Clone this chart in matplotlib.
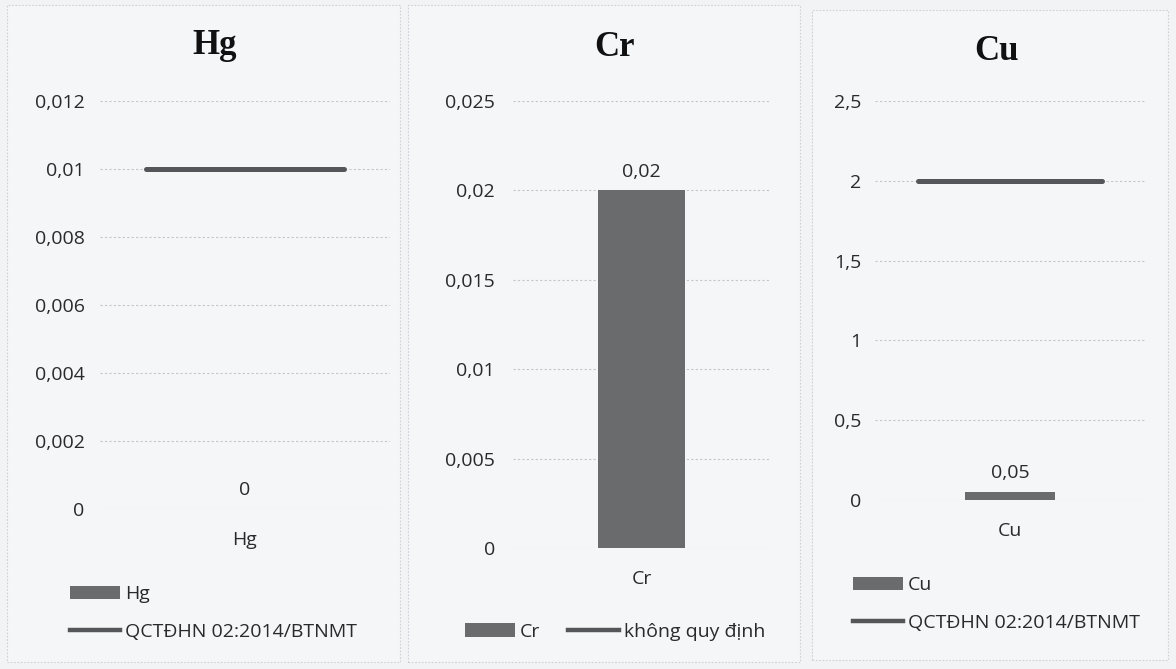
import numpy as np
import matplotlib.pyplot as plt
from matplotlib.patches import Rectangle, Patch
from matplotlib.lines import Line2D
from matplotlib.ticker import FixedLocator, FuncFormatter

metals = ['Hg', 'Cr', 'Cu']
measured = [0, 0.02, 0.05]
limits = [0.01, None, 2]
limit_names = ['QCTĐHN 02:2014/BTNMT', 'không quy định', 'QCTĐHN 02:2014/BTNMT']
y_max = [0.012, 0.025, 2.5]
y_step = [0.002, 0.005, 0.5]

W, H = 1176, 669
paper = '#f1f3f5'
bar_col = '#6a6b6d'
line_col = '#545659'
grid_col = '#c3c7cc'
text_col = '#2a2a2a'
fs = 14

plt.rcParams['font.family'] = ['Open Sans', 'DejaVu Sans']

fig = plt.figure(figsize=(W / 100, H / 100), dpi=100, facecolor=paper)

def px(x0, y0, x1, y1):
    # pixel box (top-left origin) -> figure fraction rect
    return [x0 / W, 1 - y1 / H, (x1 - x0) / W, (y1 - y0) / H]

boxes = [(7, 5, 400, 662), (408, 5, 800, 662), (812, 10, 1168, 660)]
axes_px = [(100, 101, 390, 509), (513, 101, 770, 548), (875, 101, 1145, 500)]
title_xy = [(215, 45), (614, 47), (996, 52)]
ypad = [11, 13, 10]

def comma(v, pos):
    s = ('%.3f' % v).rstrip('0').rstrip('.')
    return s.replace('.', ',')

for i, m in enumerate(metals):
    bx = boxes[i]
    fig.patches.append(Rectangle((bx[0] / W, 1 - bx[3] / H), (bx[2] - bx[0]) / W,
                                 (bx[3] - bx[1]) / H, transform=fig.transFigure,
                                 facecolor='#f4f6f8', edgecolor='#cdd2d8', lw=0.8,
                                 linestyle=(0, (1.5, 1.5)), zorder=-5))
    fig.text(title_xy[i][0] / W, 1 - title_xy[i][1] / H, m, family='Liberation Serif',
             weight='bold', fontsize=25, ha='center', va='center', color='#111111')

    ax = fig.add_axes(px(*axes_px[i]))
    ax.set_zorder(1)
    ax.set_facecolor('none')
    ax.set_xlim(-0.5, 0.5)
    ax.set_ylim(0, y_max[i])
    ticks = np.arange(0, y_max[i] + y_step[i] / 2, y_step[i])
    ax.yaxis.set_major_locator(FixedLocator(ticks))
    ax.yaxis.set_major_formatter(FuncFormatter(comma))
    ax.set_xticks([0], [m])
    ax.tick_params(length=0, labelsize=fs, colors=text_col)
    ax.tick_params(axis='y', pad=ypad[i])
    ax.tick_params(axis='x', pad=16)
    for s in ax.spines.values():
        s.set_visible(False)
    ax.grid(axis='y', color=grid_col, lw=0.8, linestyle=(0, (2, 2)))
    ax.set_axisbelow(True)

    ax.bar([0], [measured[i]], width=0.335, color=bar_col, zorder=2)
    ax.annotate(comma(measured[i], 0), (0, measured[i]), xytext=(0, 7),
                textcoords='offset points', ha='center', va='bottom',
                fontsize=fs, color=text_col)
    if limits[i] is not None:
        ax.plot([-0.34, 0.34], [limits[i], limits[i]], color=line_col, lw=3.6,
                solid_capstyle='round', zorder=3)

    handles = [Patch(facecolor=bar_col, edgecolor='none'),
               Line2D([0], [0], color=line_col, lw=3.2)]
    labels = [m, limit_names[i]]
    if i == 1:
        fig.legend(handles, labels, loc='center left', bbox_to_anchor=(447 / W, 1 - 632 / H),
                   ncol=2, frameon=False, fontsize=fs, handlelength=2.6,
                   columnspacing=1.45, handletextpad=0.25, labelcolor=text_col)
    else:
        lx = 52 if i == 0 else 835
        ly = 613 if i == 0 else 604
        fig.legend(handles, labels, loc='center left', bbox_to_anchor=(lx / W, 1 - ly / H),
                   ncol=1, frameon=False, fontsize=fs, handlelength=2.6,
                   labelspacing=1.0, handletextpad=0.25, labelcolor=text_col)

fig.savefig('out.png', dpi=100, facecolor=paper)
